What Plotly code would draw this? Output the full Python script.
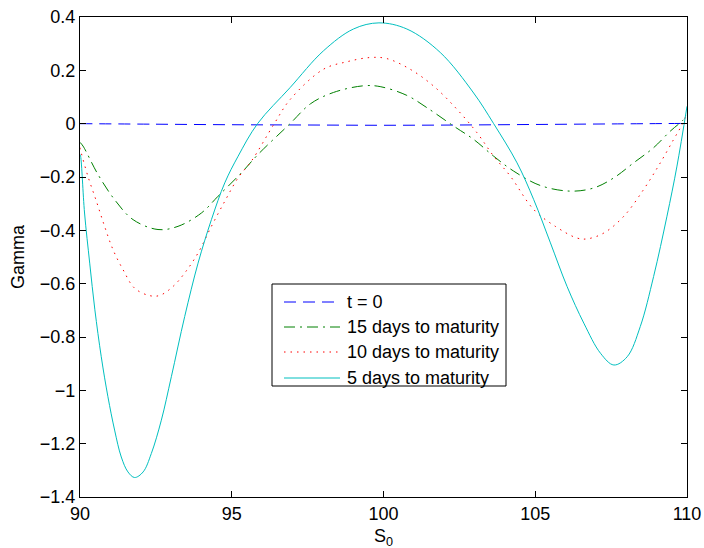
import plotly.graph_objects as go

# ---------------- data ----------------
x_t0 = [90, 92.5, 95, 97.5, 100, 102.5, 105, 107.5, 110]
gamma_t0 = [0.0, -0.002, -0.004, -0.005, -0.006, -0.005, -0.003, -0.001, 0.001]

x_15 = [90, 90.1, 90.59, 91.14, 91.75, 92.57, 93.23, 94.0, 94.55, 95.32, 95.87, 96.92,
        97.6, 98.35, 99.34, 99.89, 100.77, 101.43, 102.31, 102.97, 103.63, 104.29,
        105.17, 106.16, 106.93, 107.59, 108.24, 108.9, 109.45, 109.84, 110]
gamma_15 = [-0.07, -0.084, -0.19, -0.285, -0.36, -0.397, -0.385, -0.335, -0.272, -0.184, -0.115, 0.0,
            0.075, 0.117, 0.142, 0.139, 0.106, 0.06, -0.009, -0.059, -0.122, -0.178,
            -0.232, -0.253, -0.241, -0.203, -0.147, -0.09, -0.028, 0.01, 0.03]

x_10 = [90, 90.04, 90.26, 90.54, 90.81, 91.09, 91.42, 91.8, 92.3, 92.63, 93.07, 93.45,
        93.89, 94.33, 94.77, 95.21, 95.65, 96.4, 96.92, 98.02, 98.79, 99.56, 100.11,
        100.88, 101.65, 102.42, 103.08, 103.63, 104.18, 104.95, 105.66, 106.38, 106.71,
        107.26, 107.92, 108.57, 109.12, 109.56, 109.84, 110]
gamma_10 = [-0.09, -0.109, -0.197, -0.291, -0.385, -0.473, -0.548, -0.617, -0.645, -0.644, -0.61, -0.56,
            -0.485, -0.385, -0.291, -0.203, -0.14, 0.0, 0.09, 0.204, 0.232, 0.248, 0.244,
            0.204, 0.141, 0.054, -0.034, -0.122, -0.197, -0.322, -0.385, -0.429, -0.432,
            -0.41, -0.347, -0.247, -0.147, -0.059, -0.003, 0.04]

x_5 = [90, 90.02, 90.15, 90.32, 90.49, 90.7, 90.92, 91.14, 91.36, 91.58, 91.8, 92.08,
       92.35, 92.68, 93.01, 93.45, 93.89, 94.33, 94.77, 95.21, 95.85, 96.92, 98.02,
       99.01, 99.85, 100.77, 101.87, 102.97, 103.63, 104.4, 104.95, 105.5, 106.05,
       106.6, 107.15, 107.59, 108.03, 108.46, 108.9, 109.34, 109.67, 110]
gamma_5 = [-0.115, -0.122, -0.335, -0.523, -0.698, -0.874, -1.024, -1.149, -1.25, -1.306, -1.327, -1.306,
           -1.237, -1.112, -0.949, -0.723, -0.523, -0.36, -0.222, -0.122, 0.0, 0.135, 0.273,
           0.355, 0.378, 0.355, 0.267, 0.115, 0.0, -0.147, -0.285, -0.447, -0.611,
           -0.748, -0.861, -0.905, -0.874, -0.761, -0.573, -0.347, -0.159, 0.065]

series_names = ["t = 0", "15 days to maturity", "10 days to maturity", "5 days to maturity"]
y_ticks = [-1.4, -1.2, -1.0, -0.8, -0.6, -0.4, -0.2, 0.0, 0.2, 0.4]
x_ticks = [90, 95, 100, 105, 110]

# ---------------- styles ----------------
FONT = "Liberation Sans, Arial, Helvetica, sans-serif"
FS = 18
W, H = 704, 548
L, R, T, B = 80, 17, 17, 51

styles = [
    dict(color="#0000ff", dash="12px,7px"),
    dict(color="#008000", dash="11px,5px,2px,5px"),
    dict(color="#ff0000", dash="1.5px,5px"),
    dict(color="#00bfbf", dash="solid"),
]
data = [(x_t0, gamma_t0), (x_15, gamma_15), (x_10, gamma_10), (x_5, gamma_5)]

fig = go.Figure()
for (xs, ys), st, nm in zip(data, styles, series_names):
    fig.add_trace(go.Scatter(
        x=xs, y=ys, mode="lines", name=nm,
        line=dict(color=st["color"], dash=st["dash"], width=1, shape="spline", smoothing=1.0),
        showlegend=False, hoverinfo="skip"))

pw, ph = W - L - R, H - T - B


def px(xp):
    return (xp - L) / pw


def py(yp):
    return 1 - (yp - T) / ph


shapes = []
annotations = []
# manual legend (MATLAB style)
shapes.append(dict(type="rect", xref="paper", yref="paper",
                   x0=px(272), x1=px(506), y0=py(386), y1=py(284),
                   line=dict(color="black", width=1), fillcolor="white", layer="above"))
rows = [302, 327, 352, 378]
for st, nm, r in zip(styles, series_names, rows):
    shapes.append(dict(type="line", xref="paper", yref="paper",
                       x0=px(284), x1=px(340), y0=py(r), y1=py(r),
                       line=dict(color=st["color"], dash=st["dash"], width=1), layer="above"))
    annotations.append(dict(xref="paper", yref="paper", x=px(345), y=py(r),
                            xanchor="left", yanchor="middle", showarrow=False,
                            text=nm, font=dict(family=FONT, size=FS, color="black")))

# axis titles
annotations.append(dict(xref="paper", yref="paper", x=px(18), y=py(257),
                        xanchor="center", yanchor="middle", showarrow=False, textangle=-90,
                        text="Gamma", font=dict(family=FONT, size=FS, color="black")))
annotations.append(dict(xref="paper", yref="paper", x=px(383), y=py(537),
                        xanchor="center", yanchor="middle", showarrow=False,
                        text="S<sub>0</sub>", font=dict(family=FONT, size=FS, color="black")))

axis_common = dict(showline=True, linecolor="black", linewidth=1, mirror="allticks",
                   ticks="inside", ticklen=6, tickcolor="black", tickwidth=1,
                   showgrid=False, zeroline=False,
                   tickfont=dict(family=FONT, size=FS, color="black"))

fig.update_layout(
    width=W, height=H,
    margin=dict(l=L, r=R, t=T, b=B, autoexpand=False),
    paper_bgcolor="white", plot_bgcolor="white",
    xaxis=dict(range=[90, 110], tickvals=x_ticks, **axis_common),
    yaxis=dict(range=[-1.4, 0.4], tickvals=y_ticks, **axis_common),
    shapes=shapes, annotations=annotations, showlegend=False,
)

fig.write_html("out.html", config={"displayModeBar": False},
               post_script="document.body.style.margin='0';document.body.style.overflow='hidden';")
